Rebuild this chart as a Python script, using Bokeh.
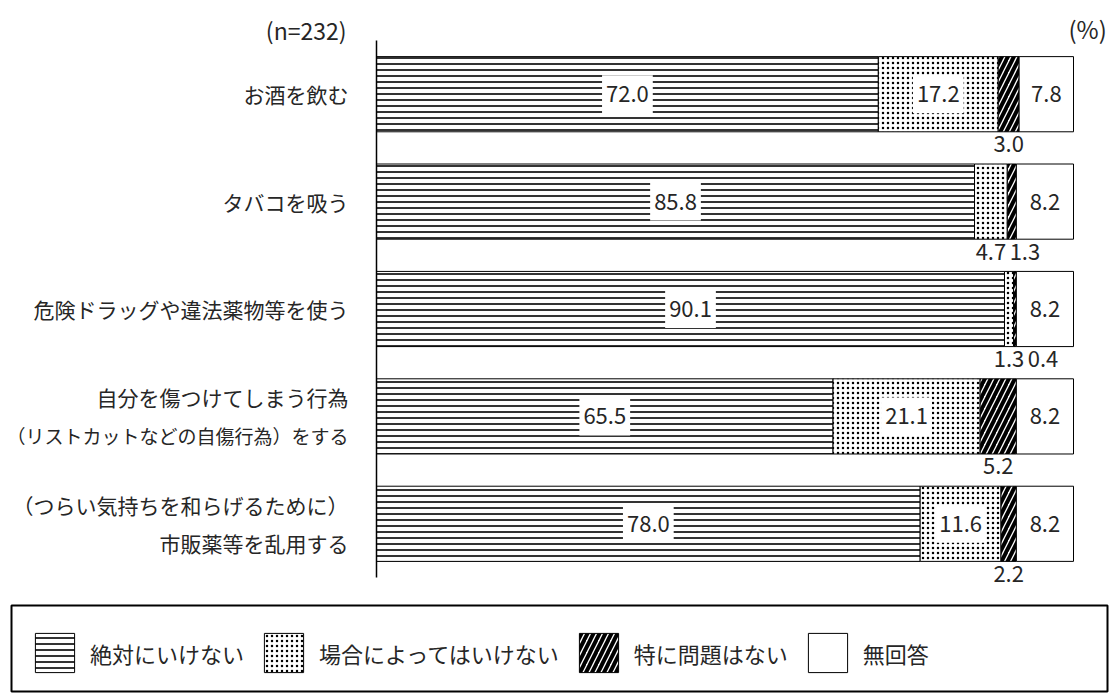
import numpy as np
from bokeh.plotting import figure
from bokeh.models import (ColumnDataSource, Range1d, Label, Legend, LegendItem, BoxAnnotation)
from bokeh.embed import file_html
from bokeh.resources import INLINE
from bokeh.core.properties import value

# ---------------- data ----------------
categories = [
    "お酒を飲む",
    "タバコを吸う",
    "危険ドラッグや違法薬物等を使う",
    "自分を傷つけてしまう行為\n（リストカットなどの自傷行為）をする",
    "（つらい気持ちを和らげるために）\n市販薬等を乱用する",
]
series_names = ["絶対にいけない", "場合によってはいけない", "特に問題はない", "無回答"]
absolutely_not = [72.0, 85.8, 90.1, 65.5, 78.0]
depends_on_case = [17.2, 4.7, 1.3, 21.1, 11.6]
no_problem = [3.0, 1.3, 0.4, 5.2, 2.2]
no_answer = [7.8, 8.2, 8.2, 8.2, 8.2]
sample_note = "(n=232)"
unit_note = "(%)"

# ---------------- layout / style ----------------
FONT = "Noto Sans CJK JP"
TXT = "#262626"
W, H = 1110, 693
ZERO_PX, FULL_PX = 376, 1073          # canvas x of 0% and 100%
TOP_PX, BOTTOM_PX = 40, 577           # canvas y of the category band
PPU = (FULL_PX - ZERO_PX) / 100.0
N = len(categories)
SLOT = (BOTTOM_PX - TOP_PX) / N
X0 = -ZERO_PX / PPU
X1 = 100 + (W - FULL_PX) / PPU
Y1 = N + TOP_PX / SLOT
Y0 = -(H - BOTTOM_PX) / SLOT


def px_to_x(cx):
    return X0 + cx / PPU


def px_to_y(cy):
    return Y1 - cy / SLOT


BAR_H = 0.70
SMALL = 6.0
styles = [
    dict(hatch_pattern="horizontal_line", hatch_scale=6, hatch_weight=1.6),
    dict(hatch_pattern="dot", hatch_scale=5, hatch_weight=1.2),
    dict(hatch_pattern="right_diagonal_line", hatch_scale=12, hatch_weight=4),
    dict(hatch_pattern=None),
]

series = [absolutely_not, depends_on_case, no_problem, no_answer]
arr = np.array(series, dtype=float)
cum = np.cumsum(arr, axis=0)
left = cum - arr
center = left + arr / 2.0
ypos = np.array([N - j - 0.5 for j in range(N)])

p = figure(width=W, height=H, x_range=Range1d(X0, X1), y_range=Range1d(Y0, Y1),
           output_backend="svg", toolbar_location=None,
           x_axis_location=None, y_axis_location=None, min_border=0)
p.outline_line_color = None
p.grid.visible = False
p.background_fill_color = "white"

renderers = []
for i in range(len(series)):
    src = ColumnDataSource(dict(y=ypos, left=left[i], right=cum[i]))
    st = styles[i]
    kw = dict(fill_color="white", line_color="black", line_width=1)
    if st["hatch_pattern"]:
        kw.update(hatch_color="black", **st)
    r = p.hbar(y="y", left="left", right="right", height=BAR_H, source=src, **kw)
    renderers.append(r)

# vertical axis line spanning the category band
p.segment(x0=[0], y0=[0], x1=[0], y1=[N], line_color="black", line_width=1.5)

# value labels
in_x, in_y, in_t = [], [], []
below_x, below_y, below_t, below_off = [], [], [], []
for j in range(N):
    smalls = []
    for i in range(len(series)):
        v = arr[i, j]
        if v >= SMALL:
            in_x.append(center[i, j]); in_y.append(ypos[j]); in_t.append(f"{v:.1f}")
        else:
            smalls.append((center[i, j], v))
    last_px = -1e9
    for c, v in smalls:
        px = c * PPU
        shift = 0.0
        if px - last_px < 34:
            shift = last_px + 34 - px
        last_px = px + shift
        below_x.append(c); below_y.append(ypos[j]); below_t.append(f"{v:.1f}"); below_off.append(shift)

in_src = ColumnDataSource(dict(x=in_x, y=in_y, t=in_t))
p.text(x="x", y="y", text="t", source=in_src, text_align="center", text_baseline="middle",
       text_font=value(FONT), text_font_size="22px", text_color=TXT,
       background_fill_color="white", padding=(4, 11))

below_src = ColumnDataSource(dict(x=below_x, y=below_y, t=below_t, off=below_off))
p.text(x="x", y="y", text="t", source=below_src, x_offset="off", y_offset=50,
       text_align="center", text_baseline="middle",
       text_font=value(FONT), text_font_size="22px", text_color=TXT)

# category labels (one text per line, shrunk only if too wide)
cx, cy, ct, coff, cfs = [], [], [], [], []
LINE_SP = 38
LABEL_ROOM = 344
for j, cat in enumerate(categories):
    lines = cat.split("\n")
    n = len(lines)
    for k, ln in enumerate(lines):
        size = min(21, int(LABEL_ROOM / len(ln)))
        cx.append(0); cy.append(ypos[j]); ct.append(ln)
        coff.append((k - (n - 1) / 2.0) * LINE_SP); cfs.append(f"{size}px")
cat_src = ColumnDataSource(dict(x=cx, y=cy, t=ct, off=coff, fs=cfs))
p.text(x="x", y="y", text="t", source=cat_src, x_offset=-28, y_offset="off",
       text_align="right", text_baseline="middle",
       text_font=value(FONT), text_font_size="fs", text_color=TXT)

p.add_layout(Label(x=0, y=N, x_offset=-30, y_offset=11, text=sample_note,
                   text_align="right", text_baseline="middle", text_font=FONT,
                   text_font_size="23px", text_color=TXT))
p.add_layout(Label(x=100, y=N, x_offset=-5, y_offset=12, text=unit_note,
                   text_align="left", text_baseline="middle", text_font=FONT,
                   text_font_size="24px", text_color=TXT))

# ---------------- legend ----------------
p.add_layout(BoxAnnotation(left=px_to_x(11), right=px_to_x(1107),
                           top=px_to_y(605), bottom=px_to_y(H - 2),
                           fill_alpha=0, line_color="black", line_width=2, line_alpha=1))

items = [LegendItem(label=name, renderers=[renderers[i]], index=0)
         for i, name in enumerate(series_names)]
legend = Legend(items=items, orientation="horizontal", location=(30, 16),
                border_line_color=None, background_fill_alpha=0,
                glyph_width=49, glyph_height=49, label_standoff=11, spacing=15,
                padding=0, margin=0,
                label_text_font=FONT, label_text_font_size="22px",
                label_text_color=TXT)
p.add_layout(legend)

open("out.html", "w").write(file_html(p, INLINE))
